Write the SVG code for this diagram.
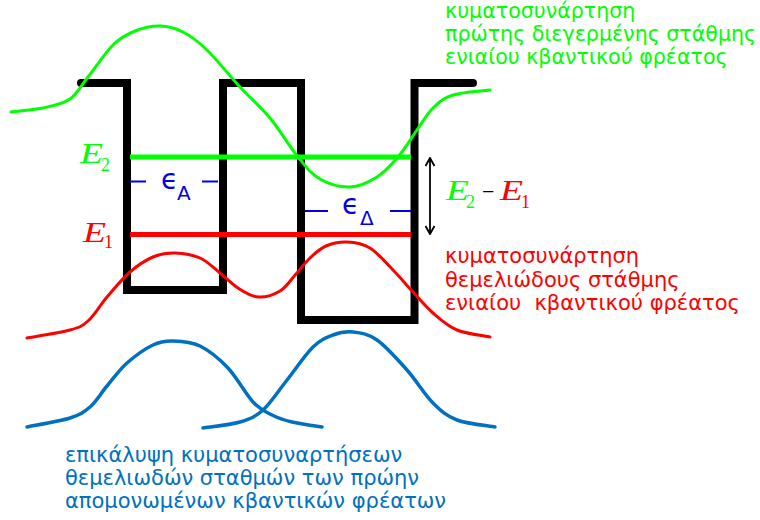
<svg xmlns="http://www.w3.org/2000/svg" width="760" height="520" viewBox="0 0 760 520">
<defs>
<style>
.wall{fill:none;stroke:#000;stroke-width:8;stroke-linecap:round;stroke-linejoin:miter}
.lvl{fill:none;stroke-width:5}
.wf{fill:none;stroke-width:3;stroke-linejoin:round;stroke-linecap:round}
.gr{stroke:#00ff00}
.rd{stroke:#ff0000}
.bl{stroke:#0070c0;stroke-width:3.5}
.txt{font-family:"DejaVu Sans","Noto Sans",sans-serif;font-size:21px}
.math{font-family:"Liberation Serif","DejaVu Serif",serif;font-style:italic;font-size:29px}
.sub{font-family:"Liberation Serif","DejaVu Serif",serif;font-size:18px}
.eps{font-family:"DejaVu Sans",sans-serif;font-size:28px;fill:#0000e6}
.epsub{font-family:"DejaVu Sans",sans-serif;font-size:20px;fill:#0000e6}
.dash{stroke:#0000e6;stroke-width:2}
</style>
<marker id="ah" viewBox="0 0 10 10" refX="9" refY="5" markerWidth="10" markerHeight="10" markerUnits="userSpaceOnUse" orient="auto-start-reverse">
<path d="M1 0.5 L9 5 L1 9.5" fill="none" stroke="#000" stroke-width="1.8"/>
</marker>
</defs>
<g id="potential">
<path class="wall" d="M81 83 H127 V290 H223 V83 H301 V320 H414.5 V83 H473"/>
</g>
<g id="levels">
<line class="lvl gr" x1="130" y1="157" x2="411" y2="157"/>
<line class="lvl rd" x1="130" y1="234.5" x2="411" y2="234.5"/>
</g>
<g id="wavefunctions">
<path id="wf-excited" class="wf gr" d="M11 112 C16 111 33 110 43 108 S62.5 104.2 70 99 S80.8 86 88 77 S105.2 52.7 113 45 S127.2 34.2 135 31 S152 25.8 160 26 S175.2 28 183 32 S197.5 40.8 207 50 S229.5 75.7 240 87 S260.3 106.3 270 118 S289.7 146.8 298 157 S311.3 174 320 179 S340.5 187.3 350 187 S369 182 377 177 S391.3 164.8 398 157 S411.2 138.2 417 130 S427 113.8 433 108 S443.5 98 453 95 S483.8 90.8 490 90"/>
<path id="wf-ground" class="wf rd" d="M27 338 C34.2 336.7 59.8 332.8 70 330 S81.8 326.5 88 321 S100 305.2 107 297 S122.3 278.7 130 272 S145.5 260.2 153 257 S167.2 252.8 175 253 S192.5 254.7 200 258 S213.7 268 220 273 S231.7 284 238 288 S251 296.5 258 297 S273.7 294.8 280 291 S291 279.5 296 274 S305 262.7 310 258 S319.8 248.7 326 246 S339.7 241.7 347 242 S362.3 243.3 370 248 S385.8 262.7 393 270 S406.3 284.8 413 292 S425.7 306.7 433 313 S447.5 326 457 330 S484.5 335.8 490 337"/>
<path id="wf-left" class="wf bl" d="M27 427 C34.2 425.5 59.5 421.3 70 418 S83.8 412.3 90 407 S100.8 393.3 107 386 S119.3 369.8 127 363 S145.3 348.7 153 345 S165.2 340.8 173 341 S190.8 341.5 200 346 S219.2 358.7 228 368 S245.7 394.2 253 402 S265.5 411.7 272 415 S283.7 420 292 422 S317 426.2 322 427"/>
<path id="wf-right" class="wf bl" d="M203 428 C209.2 427 230 425 240 422 S255.2 417 263 410 S278.7 390.5 287 380 S305.3 354.5 313 347 S326.3 337.5 333 335 S345.7 331.2 353 332 S368 333.7 377 340 S397.7 359.5 407 370 S424.7 394.7 433 403 S446.7 416 457 420 S488.7 425.8 495 427"/>
</g>
<g id="label-E2">
<text class="math" x="80" y="163" fill="#00ff00" textLength="23" lengthAdjust="spacingAndGlyphs">E</text>
<text class="sub" x="101" y="171" fill="#00ff00">2</text>
</g>
<g id="label-E1">
<text class="math" x="83" y="242" fill="#ff0000" textLength="23" lengthAdjust="spacingAndGlyphs">E</text>
<text class="sub" x="104" y="248" fill="#ff0000">1</text>
</g>
<g id="label-epsA">
<line class="dash" x1="130" y1="181.5" x2="146" y2="181.5"/>
<text class="eps" x="161" y="189">ϵ</text>
<text class="epsub" x="177" y="200">A</text>
<line class="dash" x1="202" y1="181.5" x2="218" y2="181.5"/>
</g>
<g id="label-epsD">
<line class="dash" x1="305" y1="211" x2="328" y2="211"/>
<text class="eps" x="342" y="214">ϵ</text>
<text class="epsub" x="360" y="225">Δ</text>
<line class="dash" x1="390" y1="211" x2="411" y2="211"/>
</g>
<g id="connectors">
<line x1="430" y1="158" x2="430" y2="234" stroke="#000" stroke-width="1.8" marker-start="url(#ah)" marker-end="url(#ah)"/>
</g>
<g id="label-diff">
<text class="math" x="446" y="200" fill="#00ff00" textLength="23" lengthAdjust="spacingAndGlyphs">E</text>
<text class="sub" x="466" y="208" fill="#00ff00">2</text>
<text x="482" y="199" font-family="Liberation Serif,serif" font-size="22" fill="#000">−</text>
<text class="math" x="500" y="200" fill="#ff0000" textLength="23" lengthAdjust="spacingAndGlyphs">E</text>
<text class="sub" x="521" y="208" fill="#ff0000">1</text>
</g>
<g id="text-excited">
<text class="txt" fill="#00ff00" font-size="20.6" style="font-size:20.6px"><tspan x="445" y="18">κυματοσυνάρτηση</tspan><tspan x="445" y="41">πρώτης διεγερμένης στάθμης</tspan><tspan x="445" y="64">ενιαίου κβαντικού φρέατος</tspan></text>
</g>
<g id="text-ground">
<text class="txt" fill="#ff0000" xml:space="preserve"><tspan x="445" y="263">κυματοσυνάρτηση</tspan><tspan x="445" y="287">θεμελιώδους στάθμης</tspan><tspan x="445" y="310">ενιαίου  κβαντικού φρέατος</tspan></text>
</g>
<g id="text-overlap">
<text class="txt" fill="#0070c0"><tspan x="65" y="462">επικάλυψη κυματοσυναρτήσεων</tspan><tspan x="65" y="485">θεμελιωδών σταθμών των πρώην</tspan><tspan x="65" y="508">απομονωμένων κβαντικών φρέατων</tspan></text>
</g>
</svg>
